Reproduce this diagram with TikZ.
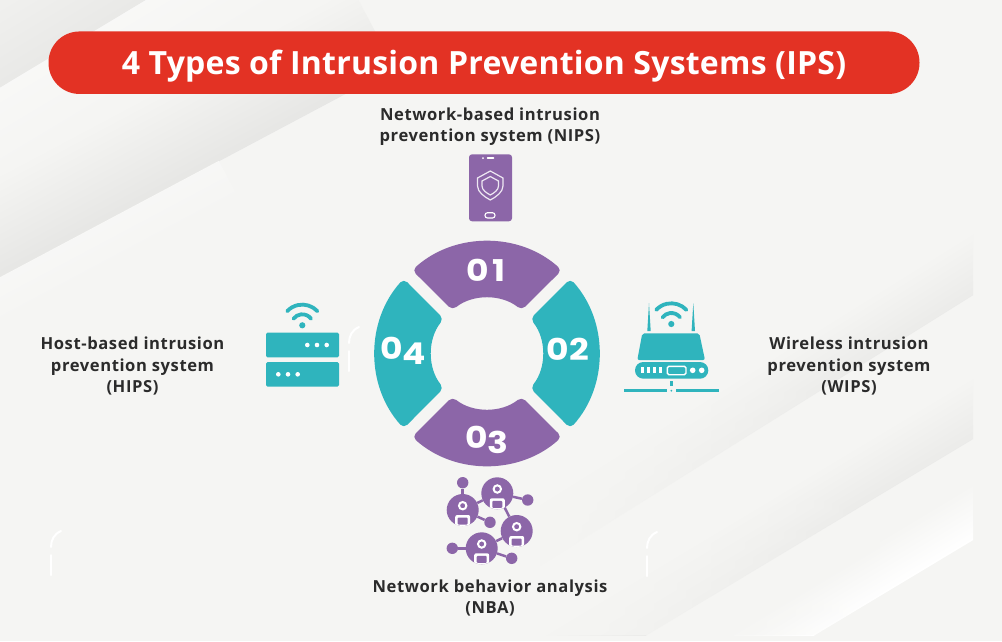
\documentclass[tikz,border=0pt]{standalone}
\usepackage{fontspec}
\setmainfont{Open Sans}
\newfontfamily\numfont[FakeStretch=1.15]{Poppins}
\usetikzlibrary{shapes}
\usetikzlibrary{fadings}
\definecolor{paper}{HTML}{F5F5F3}
\definecolor{plum}{HTML}{8C66A8}
\definecolor{teal}{HTML}{2FB4BD}
\definecolor{flame}{HTML}{E33224}
\definecolor{ink}{HTML}{2B2B2B}
\tikzfading[name=fadeout, left color=transparent!0, right color=transparent!100]
\tikzstyle{heading} = [rectangle, rounded corners=31pt, fill=flame, text=white, minimum width=871pt,
minimum height=62.5pt, inner sep=0pt, text height=23.6pt, text depth=0pt,
font=\fontsize{32}{32}\selectfont\bfseries\addfontfeature{LetterSpace=0.7}]
\tikzstyle{caption} = [align=center, text=ink, inner sep=0pt,
font=\fontsize{16.6}{21.4}\selectfont\bfseries\addfontfeature{LetterSpace=3.5}]
\tikzstyle{number} = [text=white, inner sep=0pt, font=\fontsize{30}{30}\selectfont\numfont\bfseries]
\tikzstyle{peer} = [circle, fill=plum, minimum size=32pt, inner sep=0pt]
\tikzstyle{hub} = [circle, fill=plum, minimum size=11.4pt, inner sep=0pt]
\tikzstyle{glint} = [white, line width=2pt, line cap=round]
\newcommand{\link}[2]{ %
  % Connect all nodes #1 to all nodes #2.
  \foreach \x in {#1} { %
    \foreach \y in {#2} { %
      \path (\x) edge [plum, line width=2.5pt] (\y) ;%
    } ;
  } ;
}
\newcommand{\wifi}[3]{ %
  \begin{scope}[shift={(#1,#2)},y=1pt]
    \fill[#3] (0,0) circle (3.1);
    \draw[#3, line width=3.8pt, line cap=round] (37:11) arc (37:143:11);
    \draw[#3, line width=3.8pt, line cap=round] (43:20.7) arc (43:137:20.7);
  \end{scope}
}
\newcommand{\spark}[2]{ %
  \draw[glint] (#1+10,#2) .. controls (#1+3,#2+3) and (#1,#2+9) .. (#1,#2+16);
  \draw[glint] (#1,#2+24) -- (#1,#2+44);
}
\newcommand{\sheen}[7]{ %
  % x, y of the upper left end, angle, length, width, upper and lower colour
  \shade[transform canvas={shift={(#1,#2)},rotate=#3}, top color=#6, bottom color=#7] (0,0) rectangle (#4,#5);
}
\begin{document}
\begin{tikzpicture}[x=1pt,y=-1pt]
	\path[use as bounding box, fill=paper] (0,0) rectangle (1002,641);

	% background sheen
	\begin{scope}
		\clip (0,0) rectangle (973,635);
		\sheen{-168.5}{77}{31}{450}{96}{paper!99!black}{paper!95!black}
		\sheen{-168.5}{189}{31}{570}{72}{paper!70!white}{paper}
		\sheen{-152.4}{253.4}{28}{570}{93}{paper}{paper!94!black}
		\sheen{-152}{358}{28}{420}{42}{paper!75!white}{paper}
		\sheen{500}{526}{32}{580}{55}{paper}{paper!96!black}
		\sheen{482}{670}{31}{610}{55}{paper}{paper!96!black}
		\sheen{730}{629}{31}{300}{49}{paper}{white}
		\fill[paper] (480,380) rectangle (540,635);
		\fill[paper, path fading=fadeout] (540,380) rectangle (880,635);
	\end{scope}
	\spark{51}{531}
	\spark{647}{532}
	\spark{349}{327}

	% title and captions
	\node[heading] (title) at (484,62.7) {4 Types of Intrusion Prevention Systems (IPS)};
	\node[caption] (nips) at (490,126.5) {Network-based intrusion\\prevention system (NIPS)};
	\node[caption] (hips) at (132.5,366) {Host-based intrusion\\prevention system\\(HIPS)};
	\node[caption] (wips) at (849,366) {Wireless intrusion\\prevention system\\(WIPS)};
	\node[caption] (nba) at (490,598) {Network behavior analysis\\(NBA)};

	% ring
	\begin{scope}[shift={(487,353.5)},y=1pt]
		\foreach \turn/\shade in {0/plum,-90/teal,-180/plum,-270/teal} { %
			\fill[\shade, rotate=\turn, rounded corners=5pt] (48.07:112) arc (48.07:131.93:112) -- (128.7:55.5) arc (128.7:51.3:55.5) -- cycle;
		} ;
	\end{scope}
	\node[number] (n1) at (486,270) {0\kern3pt 1};
	\node[number] (n2) at (568,349) {02};
	\node[number] (n3) at (486.7,440) {0\raisebox{-5pt}{3}};
	\node[number] (n4) at (403,351) {0\raisebox{-5pt}{4}};

	% phone
	\fill[plum, rounded corners=3pt] (469,154.3) rectangle (512,221.3);
	\fill[white] (483,158) circle (1);
	\draw[white, line width=1.5pt, line cap=round] (487.5,158) -- (493.5,158);
	\draw[white, line width=1.1pt, rounded corners=2.5pt] (485,212.7) rectangle (495,218);
	\draw[white!85!plum, line width=1.2pt] (490.3,171) -- (503,178) -- (503,186) .. controls (503,192) and (496,197) .. (490.3,200) .. controls (484.6,197) and (477.5,192) .. (477.5,186) -- (477.5,178) -- cycle;
	\draw[white!85!plum, line width=1.2pt] (490.3,176.5) -- (498.5,181) -- (498.5,186) .. controls (498.5,190) and (494,193) .. (490.3,195) .. controls (486.6,193) and (482,190) .. (482,186) -- (482,181) -- cycle;

	% server
	\wifi{302.3}{325.3}{teal}
	\fill[teal, rounded corners=1.5pt] (266,332.7) rectangle (339,357.3);
	\fill[teal, rounded corners=1.5pt] (266,362) rectangle (339,386.7);
	\foreach \x in {307.3,317,326.7} { %
		\fill[white] (\x,345) circle (2.3);
	} ;
	\foreach \x in {278.3,288,297.7} { %
		\fill[white] (\x,374.3) circle (2.3);
	} ;

	% router
	\wifi{671.3}{324}{teal}
	\fill[teal] (647.3,331) -- (649,303) -- (650.7,331) -- cycle;
	\fill[teal] (691.6,331) -- (693.3,303) -- (695,331) -- cycle;
	\fill[teal, rounded corners=2pt] (642.3,333.3) -- (699.3,333.3) -- (705,360) -- (637.3,360) -- cycle;
	\fill[teal, rounded corners=8.3pt] (635,362) rectangle (708.3,378.7);
	\foreach \x in {642.3,648.3,654.3,660.3} { %
		\fill[white] (\x-1.3,367) rectangle (\x+1.3,373.3);
	} ;
	\draw[white, line width=1.4pt, rounded corners=1.5pt] (667.3,366.3) rectangle (686,374.7);
	\fill[white] (692.7,370.3) circle (2.8);
	\fill[white] (701.7,370.3) circle (2.8);
	\coordinate (busl) at (624,390.7);
	\coordinate (busm) at (666.7,390.7);
	\coordinate (busn) at (676,390.7);
	\coordinate (busr) at (719,390.7);
	\draw[teal, line width=3pt] (busl) -- (busm);
	\draw[teal, line width=3pt] (busn) -- (busr);
	\draw[teal, line width=2.6pt] (671.3,381.3) -- (671.3,386);
	\fill[teal] (671.3,390.7) circle (1);

	% peers
	\node[peer] (peerA) at (497.3,493.3) {};
	\node[peer] (peerB) at (462.7,510) {};
	\node[peer] (peerC) at (516.7,531) {};
	\node[peer] (peerD) at (481.7,548.3) {};
	\node[hub] (hubA) at (462.7,482.7) {};
	\node[hub] (hubB) at (527.7,500) {};
	\node[hub] (hubC) at (490,522.3) {};
	\node[hub] (hubD) at (452.3,548.3) {};
	\node[hub] (hubE) at (511.7,558.3) {};

	\link{peerB} {hubA,peerA,hubC};
	\link{peerA} {hubB,peerC};
	\link{peerC} {peerD};
	\link{peerD} {hubD,hubE};

	\foreach \n in {peerA,peerB,peerC,peerD} { %
		\begin{scope}
			\clip (\n.center) circle (16);
			\fill[white, rounded corners=2pt] ([shift={(-7.5,5)}]\n.center) rectangle ([shift={(7.5,22)}]\n.center);
			\fill[plum, rounded corners=1pt] ([shift={(-5,7.5)}]\n.center) rectangle ([shift={(5,14.5)}]\n.center);
		\end{scope}
		\draw[white, line width=2pt] ([shift={(0,-4.3)}]\n.center) circle (3.7);
	} ;
\end{tikzpicture}
\end{document}
